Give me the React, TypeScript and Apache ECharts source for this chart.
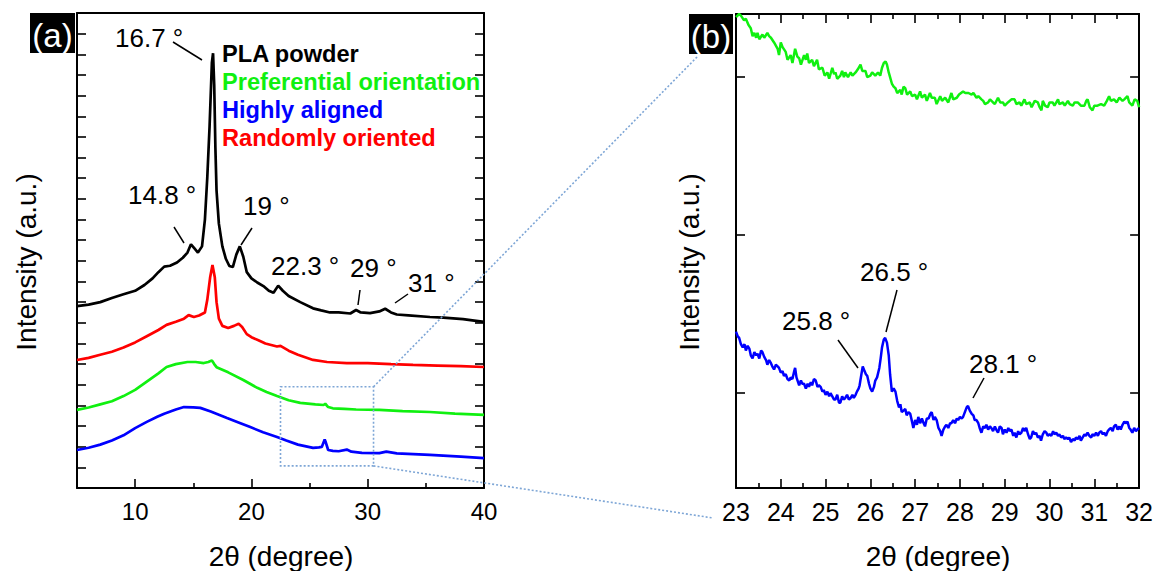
import React, { useEffect, useRef } from "react";
import * as echarts from "echarts";

// ---------- Panel (a) data: [2θ, intensity (a.u., stacked)] ----------
const plaPowder: [number, number][] = [
  [5, 8.81], [6, 8.88], [7, 9.0], [8, 9.2], [9, 9.38], [10, 9.55], [10.8, 9.83], [11.5, 10.15],
  [12, 10.45], [12.5, 10.72], [13, 10.76], [13.6, 10.92], [14.1, 11.15], [14.5, 11.4], [14.8, 11.8],
  [15.1, 11.6], [15.4, 11.4], [15.75, 11.7], [16.0, 13.0], [16.2, 15.0], [16.4, 17.5], [16.6, 20.6],
  [16.7, 21.05], [16.8, 19.5], [16.9, 16.5], [17.0, 14.4], [17.2, 12.8], [17.5, 11.7], [17.8, 11.1],
  [18.1, 10.75], [18.4, 10.7], [18.7, 11.3], [19.0, 11.7], [19.3, 11.2], [19.6, 10.45], [20, 10.15],
  [20.5, 9.95], [21.1, 9.75], [21.5, 9.55], [21.9, 9.45], [22.3, 9.8], [22.7, 9.55], [23.2, 9.3],
  [24.2, 9.0], [25.3, 8.7], [26.0, 8.6], [26.75, 8.5], [27.5, 8.5], [28.5, 8.45], [29.0, 8.62],
  [29.4, 8.5], [30.2, 8.47], [31.0, 8.55], [31.5, 8.68], [32, 8.5], [32.5, 8.4], [33.5, 8.36],
  [35.35, 8.28], [36.5, 8.25], [38.2, 8.18], [39, 8.12], [40, 8.04],
];
const randomlyOriented: [number, number][] = [
  [5, 6.2], [6, 6.3], [7, 6.45], [8, 6.6], [9, 6.8], [10, 7.05], [11, 7.35], [12, 7.65], [12.7, 7.9],
  [13.5, 8.05], [14.2, 8.2], [14.6, 8.37], [15.05, 8.28], [15.5, 8.35], [16.0, 8.5], [16.2, 9.1],
  [16.45, 10.2], [16.65, 10.8], [16.85, 10.2], [17.0, 9.0], [17.2, 8.2], [17.5, 7.85], [18.0, 7.75],
  [18.5, 7.85], [18.9, 7.95], [19.2, 7.8], [19.6, 7.45], [20, 7.3], [20.6, 7.15], [21.2, 7.0],
  [22.2, 6.85], [22.5, 6.88], [23.2, 6.65], [24, 6.45], [25.3, 6.2], [26.5, 6.1], [28.2, 6.05],
  [30, 6.05], [32, 6.0], [33.9, 5.96], [36, 5.93], [38, 5.9], [40, 5.86],
];
const preferentialOrientation: [number, number][] = [
  [5, 3.78], [6, 3.9], [7, 4.05], [8, 4.2], [9, 4.45], [10, 4.75], [11, 5.15], [12, 5.55], [12.7, 5.86],
  [13.5, 6.0], [14.5, 6.1], [15.2, 6.1], [15.9, 6.05], [16.3, 6.1], [16.6, 6.18], [16.8, 6.0],
  [17.0, 5.85], [18, 5.6], [19.3, 5.23], [20.5, 4.85], [21.3, 4.65], [22.2, 4.45], [23.2, 4.25],
  [24.2, 4.12], [25.5, 4.05], [26.2, 4.02], [26.35, 4.08], [26.6, 3.92], [27, 3.86], [28, 3.83],
  [29, 3.8], [31, 3.78], [33, 3.72], [35.35, 3.68], [37.5, 3.6], [40, 3.54],
];
const highlyAligned: [number, number][] = [
  [5, 1.84], [6, 1.95], [7, 2.1], [8, 2.3], [9, 2.55], [10, 2.9], [11, 3.2], [11.9, 3.45], [12.5, 3.6],
  [13.5, 3.8], [14.2, 3.92], [15, 3.9], [15.6, 3.88], [16.5, 3.7], [17.9, 3.39], [19, 3.15],
  [19.9, 2.95], [21, 2.7], [22.2, 2.47], [23, 2.3], [24, 2.1], [25.3, 1.94], [25.8, 1.97],
  [26.05, 1.99], [26.3, 2.35], [26.4, 2.2], [26.6, 1.84], [27, 1.8], [27.5, 1.78], [28.2, 1.86],
  [28.6, 1.76], [29.5, 1.7], [31, 1.69], [31.6, 1.76], [32.5, 1.68], [35.35, 1.6], [38, 1.52], [40, 1.45],
];

// ---------- Panel (b) data: zoom 23–32° ----------
const preferentialZoom: [number, number][] = [
  [23.0, 238], [23.07, 240], [23.11, 239], [23.18, 236], [23.22, 237], [23.28, 233], [23.33, 231],
  [23.37, 226], [23.41, 228], [23.45, 225], [23.48, 228], [23.52, 224], [23.59, 227], [23.63, 225],
  [23.7, 228], [23.74, 226], [23.78, 225], [23.85, 222], [23.93, 218], [23.96, 214], [24.0, 222],
  [24.04, 219], [24.11, 216], [24.15, 211], [24.22, 214], [24.26, 209], [24.32, 218], [24.37, 213],
  [24.41, 212], [24.45, 208], [24.52, 214], [24.56, 211], [24.59, 215], [24.63, 209], [24.7, 211],
  [24.74, 207], [24.81, 211], [24.85, 205], [24.93, 206], [24.98, 201], [25.04, 203], [25.08, 199],
  [25.15, 206], [25.19, 202], [25.22, 203], [25.26, 199], [25.33, 201], [25.37, 204], [25.41, 200],
  [25.44, 203], [25.5, 200], [25.56, 203], [25.6, 201], [25.67, 203], [25.72, 205], [25.78, 208],
  [25.82, 204], [25.89, 204], [25.93, 200], [26.0, 201], [26.04, 203], [26.11, 201], [26.17, 203],
  [26.22, 201], [26.26, 206], [26.3, 209], [26.34, 210], [26.37, 208], [26.41, 203], [26.44, 200],
  [26.48, 196], [26.52, 194], [26.56, 193], [26.6, 190], [26.67, 192], [26.7, 189], [26.74, 194],
  [26.78, 193], [26.82, 189], [26.89, 191], [26.93, 188], [27.0, 189], [27.04, 186], [27.11, 191],
  [27.15, 187], [27.22, 189], [27.26, 185], [27.33, 190], [27.37, 187], [27.44, 187], [27.48, 183],
  [27.56, 188], [27.6, 185], [27.67, 187], [27.74, 184], [27.81, 190], [27.85, 186], [27.93, 187],
  [27.98, 189], [28.07, 191], [28.12, 190], [28.19, 190], [28.26, 189], [28.3, 190], [28.37, 187],
  [28.41, 188], [28.48, 186], [28.52, 185], [28.56, 183], [28.63, 184], [28.67, 186], [28.74, 184],
  [28.78, 183], [28.85, 187], [28.9, 184], [28.96, 184], [29.0, 182], [29.07, 184], [29.15, 186],
  [29.22, 186], [29.26, 183], [29.33, 184], [29.37, 182], [29.44, 186], [29.48, 183], [29.56, 184],
  [29.6, 181], [29.67, 185], [29.74, 184], [29.78, 181], [29.82, 179], [29.85, 185], [29.9, 182],
  [29.96, 181], [30.0, 184], [30.07, 184], [30.11, 182], [30.19, 186], [30.22, 183], [30.3, 184],
  [30.34, 182], [30.41, 185], [30.45, 183], [30.52, 182], [30.56, 184], [30.63, 184], [30.7, 182],
  [30.78, 182], [30.82, 185], [30.85, 186], [30.9, 181], [30.96, 179], [31.0, 182], [31.07, 182],
  [31.15, 183], [31.22, 182], [31.28, 185], [31.33, 188], [31.37, 185], [31.44, 186], [31.5, 184],
  [31.56, 187], [31.63, 185], [31.67, 186], [31.74, 188], [31.78, 184], [31.85, 182], [31.9, 186],
  [31.96, 185], [32.0, 181],
];
const alignedZoom: [number, number][] = [
  [23.0, 39], [23.04, 36], [23.07, 35], [23.11, 31], [23.15, 29], [23.19, 31], [23.22, 27], [23.26, 30],
  [23.3, 28], [23.33, 24], [23.37, 22], [23.41, 26], [23.45, 24], [23.48, 25], [23.52, 22], [23.56, 27],
  [23.59, 26], [23.63, 23], [23.67, 21], [23.7, 18], [23.74, 21], [23.78, 19], [23.81, 17], [23.85, 15],
  [23.89, 18], [23.93, 17], [23.96, 16], [24.0, 13], [24.04, 14], [24.07, 11], [24.11, 12], [24.15, 9],
  [24.19, 8], [24.22, 10], [24.26, 9], [24.3, 14], [24.32, 16], [24.35, 10], [24.41, 5], [24.45, 8],
  [24.48, 6], [24.52, 6], [24.56, 3], [24.6, 6], [24.63, 4], [24.67, 7], [24.7, 5], [24.74, 9],
  [24.78, 8], [24.82, 4], [24.85, 5], [24.89, 4], [24.93, 1], [24.96, 2], [25.0, -1], [25.04, 1],
  [25.08, -2], [25.11, 0], [25.15, -2], [25.19, -4], [25.22, -4], [25.26, -1], [25.3, -6], [25.33, -6],
  [25.37, -2], [25.41, -4], [25.44, -3], [25.48, -1], [25.52, -4], [25.56, -3], [25.6, -1], [25.63, -3],
  [25.67, -1], [25.7, 1], [25.74, 3], [25.76, 5], [25.8, 12], [25.83, 17], [25.87, 14], [25.9, 12],
  [25.93, 11], [25.97, 6], [26.0, 3], [26.04, 1], [26.08, 4], [26.11, 8], [26.15, 10], [26.2, 16],
  [26.23, 22], [26.26, 29], [26.3, 34], [26.33, 35], [26.37, 32], [26.41, 24], [26.44, 12], [26.48, 1],
  [26.52, 3], [26.56, 1], [26.6, -5], [26.64, -9], [26.67, -7], [26.7, -12], [26.74, -11], [26.78, -10],
  [26.81, -14], [26.85, -12], [26.89, -13], [26.93, -18], [26.96, -22], [27.0, -17], [27.04, -20],
  [27.07, -15], [27.11, -19], [27.15, -16], [27.19, -19], [27.22, -21], [27.26, -16], [27.3, -16],
  [27.34, -13], [27.37, -12], [27.41, -17], [27.44, -15], [27.48, -17], [27.52, -22], [27.56, -24],
  [27.59, -27], [27.63, -23], [27.67, -21], [27.7, -20], [27.74, -22], [27.78, -19], [27.81, -19],
  [27.85, -17], [27.89, -19], [27.93, -16], [27.96, -17], [28.0, -15], [28.04, -16], [28.07, -15],
  [28.11, -12], [28.15, -9], [28.18, -8], [28.22, -11], [28.26, -13], [28.3, -14], [28.33, -17],
  [28.37, -17], [28.41, -19], [28.44, -22], [28.48, -25], [28.52, -21], [28.56, -22], [28.59, -20],
  [28.63, -23], [28.67, -21], [28.7, -22], [28.74, -24], [28.78, -21], [28.81, -23], [28.85, -25],
  [28.89, -21], [28.93, -22], [28.96, -26], [29.0, -23], [29.04, -25], [29.08, -22], [29.11, -24],
  [29.15, -23], [29.19, -27], [29.22, -25], [29.26, -28], [29.3, -24], [29.33, -26], [29.37, -25],
  [29.41, -22], [29.44, -24], [29.48, -22], [29.52, -26], [29.56, -29], [29.59, -28], [29.63, -24],
  [29.67, -26], [29.7, -25], [29.74, -28], [29.78, -27], [29.81, -30], [29.85, -26], [29.89, -24],
  [29.93, -25], [29.96, -27], [30.0, -26], [30.04, -27], [30.08, -24], [30.11, -26], [30.15, -25],
  [30.19, -27], [30.22, -26], [30.26, -28], [30.3, -27], [30.33, -29], [30.37, -28], [30.41, -29],
  [30.44, -28], [30.48, -31], [30.52, -29], [30.56, -30], [30.59, -28], [30.63, -29], [30.67, -27],
  [30.7, -30], [30.74, -28], [30.78, -26], [30.81, -27], [30.85, -25], [30.89, -27], [30.93, -28],
  [30.96, -26], [31.0, -27], [31.04, -25], [31.08, -27], [31.11, -25], [31.15, -24], [31.19, -26],
  [31.22, -25], [31.26, -27], [31.3, -24], [31.33, -23], [31.37, -22], [31.41, -24], [31.44, -21],
  [31.48, -20], [31.52, -23], [31.56, -21], [31.59, -23], [31.63, -20], [31.67, -18], [31.7, -19],
  [31.74, -18], [31.78, -22], [31.81, -23], [31.85, -25], [31.89, -22], [31.93, -24], [31.96, -23],
  [32.0, -22],
];

// ---------- Axis ticks / labels ----------
const xMajorA = [10, 20, 30, 40];
const xMinorA = [15, 25, 35];
const yTicksB = [0, 100, 200];
const zoomBox = { x0: 22.5, x1: 30.5, y0: 1.07, y1: 4.9 };

const legendItems = [
  { text: "PLA powder", color: "#000000" },
  { text: "Preferential orientation", color: "#10f010" },
  { text: "Highly aligned", color: "#0000ff" },
  { text: "Randomly oriented", color: "#ff0000" },
];

const FONT = "'Liberation Sans', Arial, Helvetica, sans-serif";
const BLACK = "#000";
const GREEN = "#10f010";
const BLUE = "#0000ff";
const RED = "#ff0000";
const DASH = "#7ea6d6";

export default function App() {
  const ref = useRef<HTMLDivElement>(null);
  useEffect(() => {
    if (!ref.current) return;
    const chart = echarts.init(ref.current, null, { renderer: "svg" });

    const axisLine = { show: true, onZero: false, lineStyle: { color: BLACK, width: 2 } };
    const tickStyle = { color: BLACK, width: 1.6 };
    const label = { color: BLACK, fontSize: 24, fontFamily: FONT, margin: 11 };

    const lineSeries = (name: string, data: [number, number][], color: string, xi: number, yi: number, w: number) => ({
      name, type: "line", data, xAxisIndex: xi, yAxisIndex: yi, showSymbol: false, symbol: "none",
      lineStyle: { color, width: w }, itemStyle: { color }, clip: true, silent: true,
    });

    const option: any = {
      animation: false,
      backgroundColor: "#fff",
      grid: [
        { left: 77, top: 13, width: 407, height: 475 },
        { left: 736, top: 14, width: 405, height: 474 },
      ],
      xAxis: [
        {
          type: "value", gridIndex: 0, position: "bottom", min: 5, max: 40,
          axisLine, splitLine: { show: false },
          axisTick: { show: true, inside: true, length: 9, lineStyle: tickStyle, customValues: xMajorA },
          axisLabel: { ...label, customValues: xMajorA },
        },
        {
          type: "value", gridIndex: 0, position: "bottom", min: 5, max: 40,
          axisLine: { show: false, onZero: false }, splitLine: { show: false },
          axisTick: { show: true, inside: true, length: 5, lineStyle: tickStyle, customValues: xMinorA },
          axisLabel: { show: false },
        },
        {
          type: "value", gridIndex: 0, position: "top", min: 5, max: 40,
          axisLine, splitLine: { show: false }, axisTick: { show: false }, axisLabel: { show: false },
        },
        {
          type: "value", gridIndex: 1, position: "bottom", min: 23, max: 32, interval: 1,
          axisLine, splitLine: { show: false },
          axisTick: { show: true, inside: true, length: 9, lineStyle: tickStyle },
          minorTick: { show: true, splitNumber: 2, length: 5, lineStyle: tickStyle },
          axisLabel: { ...label, fontSize: 25 },
        },
        {
          type: "value", gridIndex: 1, position: "top", min: 23, max: 32, interval: 1,
          axisLine, splitLine: { show: false },
          axisTick: { show: true, inside: true, length: 9, lineStyle: tickStyle },
          minorTick: { show: true, splitNumber: 2, length: 5, lineStyle: tickStyle },
          axisLabel: { show: false },
        },
      ],
      yAxis: [
        {
          type: "value", gridIndex: 0, position: "left", min: 0, max: 23, interval: 1,
          axisLine, splitLine: { show: false },
          axisTick: { show: true, inside: true, length: 9, lineStyle: tickStyle },
          axisLabel: { show: false },
        },
        {
          type: "value", gridIndex: 0, position: "right", min: 0, max: 23, interval: 1,
          axisLine, splitLine: { show: false },
          axisTick: { show: true, inside: true, length: 9, lineStyle: tickStyle },
          axisLabel: { show: false },
        },
        {
          type: "value", gridIndex: 1, position: "left", min: -60, max: 240,
          axisLine, splitLine: { show: false },
          axisTick: { show: true, inside: true, length: 9, lineStyle: tickStyle, customValues: yTicksB },
          axisLabel: { show: false },
        },
        {
          type: "value", gridIndex: 1, position: "right", min: -60, max: 240,
          axisLine, splitLine: { show: false },
          axisTick: { show: true, inside: true, length: 9, lineStyle: tickStyle, customValues: yTicksB },
          axisLabel: { show: false },
        },
      ],
      series: [
        lineSeries("Highly aligned", highlyAligned, BLUE, 0, 0, 2.7),
        lineSeries("Preferential orientation", preferentialOrientation, GREEN, 0, 0, 2.7),
        lineSeries("Randomly oriented", randomlyOriented, RED, 0, 0, 2.7),
        lineSeries("PLA powder", plaPowder, BLACK, 0, 0, 2.7),
        lineSeries("Preferential orientation (zoom)", preferentialZoom, GREEN, 3, 2, 2.5),
        lineSeries("Highly aligned (zoom)", alignedZoom, BLUE, 3, 2, 2.5),
      ],
    };
    chart.setOption(option);

    const p0 = chart.convertToPixel({ xAxisIndex: 0, yAxisIndex: 0 } as any, [zoomBox.x0, zoomBox.y1]) as number[];
    const p1 = chart.convertToPixel({ xAxisIndex: 0, yAxisIndex: 0 } as any, [zoomBox.x1, zoomBox.y0]) as number[];

    const txt = (text: string, x: number, y: number, opts: any = {}) => ({
      type: "text", x, y, rotation: opts.rotation || 0, z: 100,
      style: {
        text, fill: opts.fill || BLACK, fontSize: opts.fontSize || 26, fontFamily: FONT,
        fontWeight: opts.fontWeight || "normal", align: opts.align || "left", verticalAlign: "middle",
      },
    });
    const ln = (x1: number, y1: number, x2: number, y2: number) => ({
      type: "line", z: 100, shape: { x1, y1, x2, y2 }, style: { stroke: BLACK, lineWidth: 1.5 },
    });

    const graphic: any[] = [
      // zoom box + connectors
      {
        type: "rect", z: 90, shape: { x: p0[0], y: p0[1], width: p1[0] - p0[0], height: p1[1] - p0[1] },
        style: { fill: "none", stroke: DASH, lineWidth: 1.6, lineDash: [2, 2] },
      },
      { type: "line", z: 90, shape: { x1: p1[0], y1: p0[1], x2: 698, y2: 56 }, style: { stroke: DASH, lineWidth: 1.6, lineDash: [2, 2] } },
      { type: "line", z: 90, shape: { x1: p1[0], y1: p1[1], x2: 713, y2: 518 }, style: { stroke: DASH, lineWidth: 1.6, lineDash: [2, 2] } },
      // panel labels
      { type: "rect", z: 95, shape: { x: 30, y: 13, width: 45, height: 40 }, style: { fill: "#000" } },
      txt("(a)", 52.5, 35, { fill: "#fff", fontSize: 33, align: "center" }),
      { type: "rect", z: 95, shape: { x: 689, y: 14, width: 44, height: 40 }, style: { fill: "#000" } },
      txt("(b)", 711, 36, { fill: "#fff", fontSize: 33, align: "center" }),
      // axis titles
      txt("Intensity (a.u.)", 26, 262, { fontSize: 28, align: "center", rotation: Math.PI / 2 }),
      txt("Intensity (a.u.)", 689, 262, { fontSize: 28, align: "center", rotation: Math.PI / 2 }),
      txt("2θ (degree)", 281, 556, { fontSize: 28, align: "center" }),
      txt("2θ (degree)", 938, 556, { fontSize: 28, align: "center" }),
      // legend
      ...legendItems.map((it, i) =>
        txt(it.text, 222, 53.5 + i * 28.3, { fill: it.color, fontSize: 23.6, fontWeight: "bold" })
      ),
      // peak annotations (a)
      txt("16.7 °", 115, 37.5),
      ln(173, 42, 202, 60),
      txt("14.8 °", 128, 195),
      ln(174, 227, 184, 243),
      txt("19 °", 243, 206),
      ln(252, 228, 241, 245),
      txt("22.3 °", 271, 266),
      txt("29 °", 350, 268),
      ln(360, 290, 358, 305),
      txt("31 °", 408, 283),
      ln(408, 294, 395, 303),
      // peak annotations (b)
      txt("26.5 °", 860, 272),
      ln(897, 290, 886, 332),
      txt("25.8 °", 782, 321),
      ln(838, 340, 858, 368),
      txt("28.1 °", 969, 364),
      ln(984, 378, 973, 398),
    ];
    chart.setOption({ graphic });

    return () => chart.dispose();
  }, []);

  return (
    <div
      ref={ref}
      style={{ position: "fixed", left: 0, top: 0, width: 1156, height: 571, background: "#fff" }}
    />
  );
}
